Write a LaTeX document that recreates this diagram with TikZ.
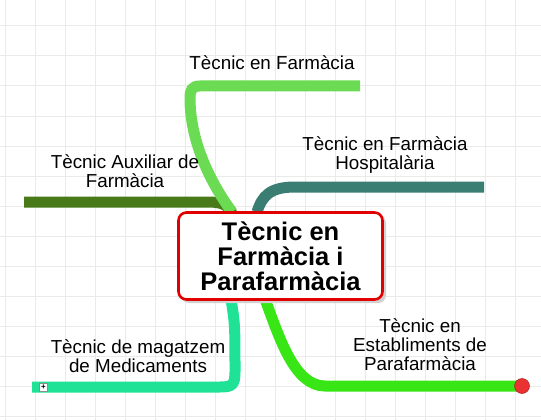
\documentclass[tikz,border=0pt]{standalone}
\usepackage{fontspec}
\setmainfont{Liberation Sans}
\definecolor{gridc}{RGB}{234,234,232}
\definecolor{cTop}{RGB}{108,219,84}
\definecolor{cTeal}{RGB}{58,125,115}
\definecolor{cDark}{RGB}{72,122,26}
\definecolor{cAqua}{RGB}{32,226,150}
\definecolor{cBright}{RGB}{55,230,20}
\definecolor{cRed}{RGB}{224,0,0}
\definecolor{cDot}{RGB}{235,50,50}
\tikzset{
  branch/.style={line width=11pt, line cap=butt},
  lbl/.style={font=\fontsize{18.8}{19}\selectfont, align=center, inner sep=0pt, text=black},
  hubbox/.style={draw=cRed, line width=2.6pt, rounded corners=8pt, fill=white,
    minimum width=204pt, minimum height=87pt, align=center,
    font=\bfseries\fontsize{25.5}{25}\selectfont},
}
\begin{document}
\begin{tikzpicture}[x=1pt,y=-1pt]
\useasboundingbox (0,0) rectangle (541,420);
\fill[white] (0,0) rectangle (541,420);
% grid
\foreach \gx in {5,35,...,535} \draw[gridc, line width=1pt] (\gx,0) -- (\gx,420);
\foreach \gy in {26,56,...,416} \draw[gridc, line width=1pt] (0,\gy) -- (541,\gy);

\coordinate (hubc) at (280.5,256);
\coordinate (aTop) at (232,212);
\coordinate (aDark) at (232,213);
\coordinate (aTeal) at (257,212);
\coordinate (aAqua) at (231,299);
\coordinate (aBright) at (265,299);
\coordinate (eTop) at (360,86);
\coordinate (eTeal) at (484,187);
\coordinate (eDark) at (24,202);
\coordinate (eAqua) at (32,387);
\coordinate (eBright) at (522,386);

% branches
\draw[branch, cDark] (aDark) .. controls (228,205) and (222,202) .. (208,202) -- (eDark);
\draw[branch, cTop] (aTop) .. controls (205,175) and (190,135) .. (190,98)
   .. controls (190,90) and (192,86) .. (200,86) -- (eTop);
\draw[branch, cTeal] (aTeal) .. controls (262,196) and (270,187) .. (295,187) -- (eTeal);
\draw[branch, cAqua] (aAqua) .. controls (235,325) .. (235,372)
   .. controls (235,385) and (232,387) .. (220,387) -- (eAqua);
\draw[branch, cBright] (aBright) .. controls (280,340) and (295,386) .. (325,386) -- (eBright);

% hub
\fill[black!18, rounded corners=8pt] (181,215) rectangle (386,303);
\node[hubbox] (hub) at (hubc) {Tècnic en\\Farmàcia i\\Parafarmàcia};

% end markers
\node[circle, fill=cDot, draw=cDot!70!black, line width=0.5pt, minimum size=15pt, inner sep=0pt] (dot) at (eBright) {};
\node[draw=black!45, fill=white, line width=0.5pt, minimum size=8pt, inner sep=0pt,
  font=\bfseries\fontsize{8}{8}\selectfont] (plus) at (43.5,387) {+};

% labels
\node[lbl] (lTop) at (272,63) {Tècnic en Farmàcia};
\node[lbl] (lTeal) at (385,155) {Tècnic en Farmàcia\\Hospitalària};
\node[lbl] (lDark) at (125,171) {Tècnic Auxiliar de\\Farmàcia};
\node[lbl] (lAqua) at (138,356) {Tècnic de magatzem\\de Medicaments};
\node[lbl] (lBright) at (420,345) {Tècnic en\\Establiments de\\Parafarmàcia};
\end{tikzpicture}
\end{document}
